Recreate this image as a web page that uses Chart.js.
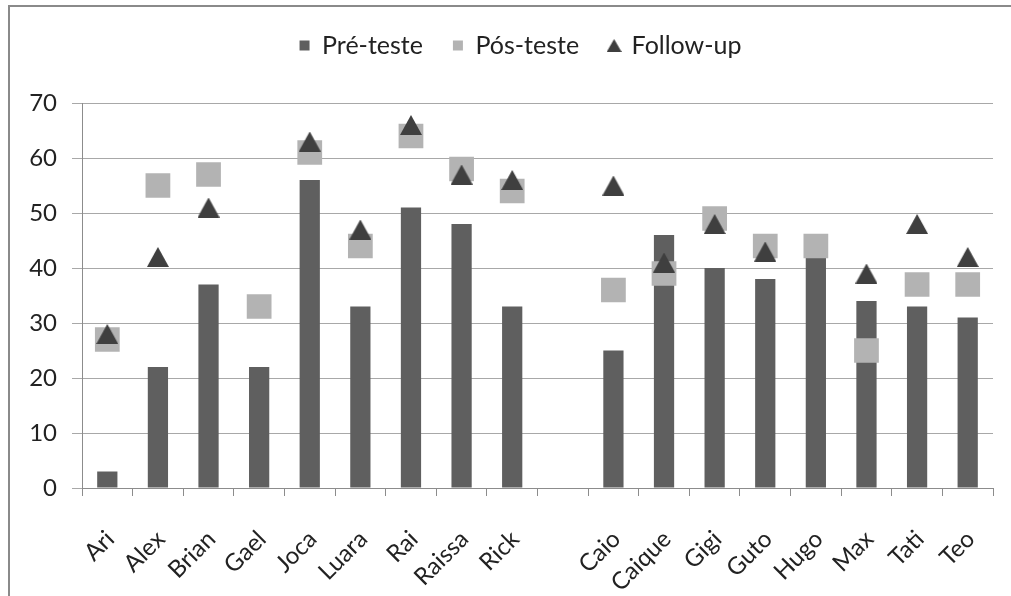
<!DOCTYPE html>
<html>
<head>
<meta charset="utf-8">
<script src="https://cdn.jsdelivr.net/npm/chart.js@4"></script>
<style>
  html, body { margin: 0; padding: 0; background: #ffffff; }
  #wrap { width: 1011px; height: 596px; position: relative; }
  canvas { display: block; }
</style>
</head>
<body>
<div id="wrap"><canvas id="chart" width="1011" height="596"></canvas></div>
<script>
// Participants (the empty entry separates the two groups)
const categories = ['Ari', 'Alex', 'Brian', 'Gael', 'Joca', 'Luara', 'Rai', 'Raissa', 'Rick', '',
                    'Caio', 'Caique', 'Gigi', 'Guto', 'Hugo', 'Max', 'Tati', 'Teo'];
const seriesNames = ['Pré-teste', 'Pós-teste', 'Follow-up'];
const preTeste  = [3, 22, 37, 22, 56, 33, 51, 48, 33, null, 25, 46, 40, 38, 43, 34, 33, 31];
const posTeste  = [27, 55, 57, 33, 61, 44, 64, 58, 54, null, 36, 39, 49, 44, 44, 25, 37, 37];
const followUp  = [28, 42, 51, null, 63, 47, 66, 57, 56, null, 55, 41, 48, 43, null, 39, 48, 42];
const yTickValues = [0, 10, 20, 30, 40, 50, 60, 70];

const FONT = 'Lato, "Open Sans", "Liberation Sans", sans-serif';
const TEXT = '#222222';
const AXIS = '#8c8c8c';
const GRID = '#a8a8a8';

// Triangle marker whose bounding box is centred on the value
function triangleImage(w, h, color) {
  const c = document.createElement('canvas');
  c.width = w; c.height = h;
  const g = c.getContext('2d');
  g.fillStyle = color;
  g.beginPath();
  g.moveTo(w / 2, 0);
  g.lineTo(w, h);
  g.lineTo(0, h);
  g.closePath();
  g.fill();
  return c;
}
const triMarker = triangleImage(22, 20, '#3f3f3f');
const triLegend = triangleImage(15, 13, '#3f3f3f');

// Thin frame along the top and left edges
const framePlugin = {
  id: 'frame',
  beforeDraw(chart) {
    const ctx = chart.ctx;
    ctx.save();
    ctx.fillStyle = '#ffffff';
    ctx.fillRect(0, 0, chart.width, chart.height);
    ctx.fillStyle = '#8a8a8a';
    ctx.fillRect(8, 5, chart.width - 8, 2);
    ctx.fillRect(8, 5, 2, chart.height - 5);
    ctx.restore();
  }
};

// Empty band between the legend and the plot area
const spacerPlugin = {
  id: 'legendSpacer',
  beforeInit(chart) {
    const box = {
      position: 'top',
      weight: 0,
      fullSize: true,
      options: {},
      isHorizontal() { return true; },
      update(maxWidth) { this.width = maxWidth; this.height = 35; },
      draw() {}
    };
    Chart.layouts.addBox(chart, box);
  },
  // legend row sits a little right of the canvas centre
  afterLayout(chart) {
    if (chart.legend) {
      chart.legend.left += 24;
      chart.legend.right += 24;
    }
  }
};

new Chart(document.getElementById('chart'), {
  data: {
    labels: categories,
    datasets: [
      {
        type: 'bar',
        label: seriesNames[0],
        data: preTeste,
        backgroundColor: '#5f5f5f',
        borderWidth: 0,
        barPercentage: 0.4,
        categoryPercentage: 1,
        pointStyle: 'rect',
        order: 3
      },
      {
        type: 'line',
        label: seriesNames[1],
        data: posTeste,
        showLine: false,
        pointStyle: 'rect',
        pointRadius: 17.5,
        pointHoverRadius: 17.5,
        backgroundColor: '#b3b3b3',
        pointBackgroundColor: '#b3b3b3',
        borderColor: '#b3b3b3',
        pointBorderWidth: 0,
        order: 2
      },
      {
        type: 'line',
        label: seriesNames[2],
        data: followUp,
        showLine: false,
        pointStyle: triMarker,
        backgroundColor: '#3f3f3f',
        pointBackgroundColor: '#3f3f3f',
        borderColor: '#3f3f3f',
        pointBorderWidth: 0,
        order: 1
      }
    ]
  },
  options: {
    responsive: false,
    animation: false,
    events: [],
    layout: { padding: { top: 3, right: 18, bottom: 0, left: 0 } },
    plugins: {
      legend: {
        position: 'top',
        labels: {
          usePointStyle: true,
          boxWidth: 10,
          boxHeight: 10,
          padding: 30,
          color: TEXT,
          font: { family: FONT, size: 25 },
          sort: (a, b) => a.datasetIndex - b.datasetIndex,
          generateLabels(chart) {
            const items = Chart.defaults.plugins.legend.labels.generateLabels(chart);
            items.forEach(it => { if (it.datasetIndex === 2) it.pointStyle = triLegend; });
            return items;
          }
        }
      },
      tooltip: { enabled: false }
    },
    scales: {
      x: {
        grid: { drawOnChartArea: false, drawTicks: true, tickLength: 8, color: AXIS, offset: true },
        border: { display: true, color: AXIS, width: 1 },
        ticks: {
          autoSkip: false,
          minRotation: 45,
          maxRotation: 45,
          labelOffset: 3,
          padding: 29,
          color: TEXT,
          font: { family: FONT, size: 24 }
        },
        afterFit(scale) {
          scale.height = 108;
          scale.paddingLeft = 0;
          scale.paddingRight = 0;
        }
      },
      y: {
        min: yTickValues[0],
        max: yTickValues[yTickValues.length - 1],
        afterBuildTicks(scale) { scale.ticks = yTickValues.map(v => ({ value: v })); },
        grid: { color: GRID, tickLength: 10, drawTicks: true },
        border: { display: true, color: AXIS, width: 1 },
        ticks: {
          padding: 15,
          color: TEXT,
          font: { family: FONT, size: 24 }
        },
        afterFit(scale) { scale.width = 82; }
      }
    }
  },
  plugins: [framePlugin, spacerPlugin]
});
</script>
</body>
</html>
